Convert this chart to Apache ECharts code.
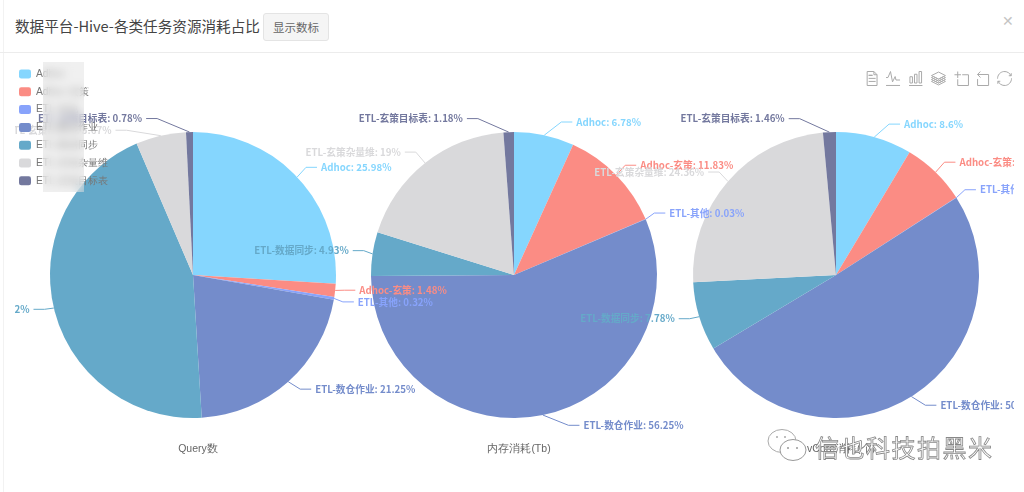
<!DOCTYPE html>
<html>
<head>
<meta charset="utf-8">
<title>数据平台-Hive-各类任务资源消耗占比</title>
<script src="https://cdn.jsdelivr.net/npm/echarts@6/dist/echarts.min.js"></script>
<style>
  html, body { margin: 0; padding: 0; background: #fff; width: 1024px; height: 492px; overflow: hidden; }
  body { font-family: "Noto Sans CJK SC", "Noto Sans", sans-serif; position: relative; }
  #frame { position: absolute; left: 3px; top: 0; width: 1021px; height: 492px; border-left: 1px solid #f2f2f2; }
  #head { position: absolute; left: 0; right: 0; top: 0; height: 52px; border-bottom: 1px solid #ececec; }
  #title { position: absolute; left: 15px; top: 13px; font-size: 14.6px; line-height: 26px; color: #444; white-space: nowrap; }
  #btn { position: absolute; left: 263px; top: 13px; width: 64px; height: 26px; line-height: 26px; text-align: center;
    font-size: 11.5px; color: #666; background: #f5f5f5; border: 1px solid #e4e4e4; border-radius: 3px; }
  #close { position: absolute; left: 1002px; top: 10px; font-size: 14px; color: #c4c4c4; }
  #chart { position: absolute; left: 15px; top: 53px; width: 999px; height: 430px; }
  #mosaic { position: absolute; left: 43px; top: 62px; width: 41px; height: 130px; background: rgba(222,222,222,0.45);
    backdrop-filter: blur(4px); -webkit-backdrop-filter: blur(4px); }
  #mark { position: absolute; left: 767px; top: 428px; width: 230px; height: 36px; }
  #markText { position: absolute; left: 48px; top: 1px; font-size: 24px; line-height: 36px; letter-spacing: 1.5px; color: #fff;
    -webkit-text-stroke: 0.8px #888; white-space: nowrap; }
</style>
</head>
<body>
<div id="frame"></div>
<div id="head"></div>
<div id="title">数据平台-Hive-各类任务资源消耗占比</div>
<div id="btn">显示数标</div>
<div id="close">✕</div>
<div id="chart"></div>
<div id="mosaic"></div>
<div id="mark">
  <svg width="44" height="36" style="position:absolute;left:0;top:0">
    <ellipse cx="15" cy="13" rx="14" ry="11.5" fill="#fff" stroke="#aaa" stroke-width="1"/>
    <ellipse cx="26" cy="22" rx="13" ry="10.5" fill="#fff" stroke="#999" stroke-width="1"/>
    <circle cx="21" cy="20" r="1" fill="#999"/><circle cx="30" cy="20" r="1" fill="#999"/>
    <circle cx="10" cy="9" r="1" fill="#aaa"/><circle cx="18" cy="9" r="1" fill="#aaa"/>
  </svg>
  <div id="markText">信也科技拍黑米</div>
</div>
<script>
var taskTypes = ['Adhoc', 'Adhoc-玄策', 'ETL-其他', 'ETL-数仓作业', 'ETL-数据同步', 'ETL-玄策杂量维', 'ETL-玄策目标表'];
var colors = ['#85d6fe', '#fb8c84', '#88a3fb', '#748ccb', '#65a9c9', '#d9d9db', '#73789e'];

var pieTitles = ['Query数', '内存消耗(Tb)', 'vCore消耗(个)'];
var queryShare = [25.98, 1.48, 0.32, 21.25, 44.52, 5.67, 0.78];
var memoryShare = [6.78, 11.83, 0.03, 56.25, 4.93, 19, 1.18];
var vcoreShare = [8.6, 7.3, 0.03, 50.47, 7.78, 24.36, 1.46];

var pieCenters = [178, 499, 821];
var pieY = 222;

function toItems(values) {
  return values.map(function (v, i) {
    return { name: taskTypes[i], value: v };
  });
}

// labels sit on an ellipse around the pie, like the older pie layout did
function placeLabel(p) {
  var pts = p.labelLinePoints;
  if (!pts) return {};
  var cx = pieCenters[p.seriesIndex];
  var dir = pts[2][0] >= pts[0][0] ? 1 : -1;
  var y = pts[2][1] - 1.5;
  var dy = Math.abs(y - pieY);
  var turnX = cx + dir * 152 * Math.sqrt(Math.max(0, 1 - dy * dy / (161 * 161)));
  var endX = turnX + dir * 11;
  return {
    x: endX + dir * 4,
    y: y,
    align: dir > 0 ? 'left' : 'right',
    verticalAlign: 'middle',
    labelLinePoints: [pts[0], [turnX, y], [endX, y]]
  };
}

function pieSeries(name, values, cx) {
  return {
    name: name,
    type: 'pie',
    radius: 143,
    center: [cx, pieY],
    percentPrecision: 2,
    startAngle: 90,
    animation: false,
    label: {
      formatter: '{b}: {d}%',
      fontSize: 9.7,
      fontWeight: 'bold',
      fontFamily: '"Noto Sans CJK SC", sans-serif',
      color: 'inherit',
      overflow: 'none'
    },
    labelLine: { length: 12, length2: 12, lineStyle: { width: 1 } },
    labelLayout: placeLabel,
    data: toItems(values)
  };
}

var chart = echarts.init(document.getElementById('chart'));
chart.setOption({
  color: colors,
  animation: false,
  title: pieTitles.map(function (t, i) {
    return {
      text: t,
      left: pieCenters[i],
      top: 386,
      textAlign: 'center',
      textStyle: { fontSize: 10.5, fontWeight: 'normal', color: '#666' }
    };
  }),
  legend: {
    orient: 'vertical',
    left: 4,
    top: 16,
    padding: 0,
    itemWidth: 12,
    itemHeight: 9,
    itemGap: 7.8,
    textStyle: { fontSize: 10.3, color: '#777' },
    data: taskTypes
  },
  toolbox: {
    right: 0,
    top: 16,
    padding: 0,
    itemSize: 14,
    itemGap: 4,
    iconStyle: { borderColor: '#aaa' },
    feature: {
      dataView: {},
      magicType: { type: ['line', 'bar', 'stack'] },
      dataZoom: {},
      restore: {}
    }
  },
  series: [
    pieSeries(pieTitles[0], queryShare, pieCenters[0]),
    pieSeries(pieTitles[1], memoryShare, pieCenters[1]),
    pieSeries(pieTitles[2], vcoreShare, pieCenters[2])
  ]
});
</script>
</body>
</html>
